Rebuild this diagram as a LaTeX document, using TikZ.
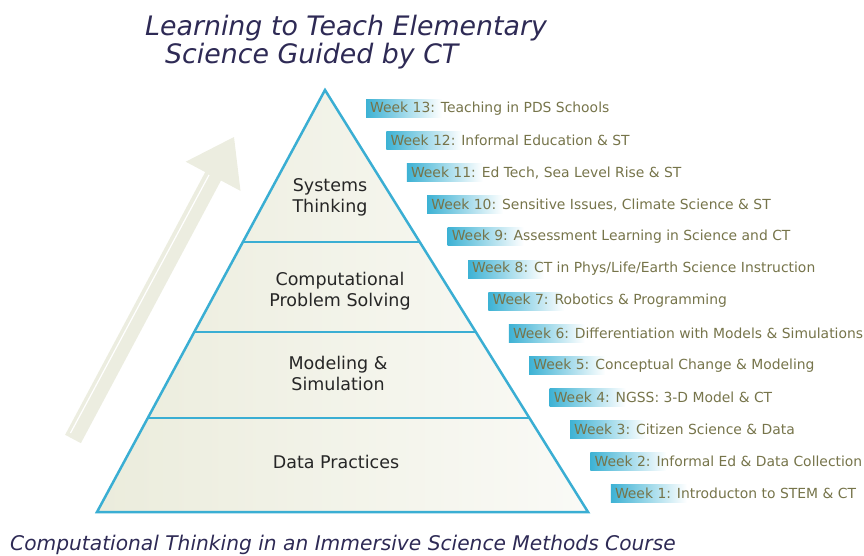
\documentclass[tikz,border=0pt]{standalone}
\usepackage{fontspec}
\setmainfont{DejaVu Sans}
\usepackage{xcolor}
\usepackage{tikz}
\usetikzlibrary{calc}

\definecolor{pyrline}{HTML}{3AAED3}
\definecolor{pyrfill}{HTML}{EBECDC}
\definecolor{weekcyan}{HTML}{3DB2D4}
\definecolor{weekink}{HTML}{76744A}
\definecolor{titleink}{HTML}{2E2A55}
\definecolor{arrowfill}{HTML}{ECEDE0}

\tikzset{
  layer/.style={align=center,text=black!85,font=\fontsize{17.5}{21}\selectfont},
  weektext/.style={anchor=west,inner sep=4pt,text=weekink,font=\fontsize{13.9}{16}\selectfont},
  weekshade/.style={left color=weekcyan,middle color=weekcyan!80,right color=white},
  heading/.style={anchor=west,inner sep=0pt,text=titleink,font=\fontsize{26.8}{28}\selectfont\itshape}
}

\begin{document}
\begin{tikzpicture}[x=1pt,y=-1pt]
\useasboundingbox (0,0) rectangle (864,555);
% rising arrow
\fill[arrowfill] (65.1,434.8) -- (205.2,172.1) -- (185.7,161.7) -- (234,137)
  -- (240.5,190.9) -- (221.0,180.5) -- (80.9,443.2) -- cycle;
\draw[white,line width=1.2pt] (70.5,433) -- (209,175);
% pyramid
\coordinate (apex) at (325,90);
\coordinate (bl) at (97,512);
\coordinate (br) at (588,512);
\shade[left color=pyrfill,right color=pyrfill!25] (apex) -- (bl) -- (br) -- cycle;
\foreach \t in {0.360,0.5735,0.777}
  \draw[pyrline,line width=2pt] ($(apex)!\t!(bl)$) -- ($(apex)!\t!(br)$);
\draw[pyrline,line width=2.5pt,line join=miter] (apex) -- (bl) -- (br) -- cycle;
\node[layer] (systems) at (330,197) {Systems\\Thinking};
\node[layer] (problem) at (340,291) {Computational\\Problem Solving};
\node[layer] (modeling) at (338,373) {Modeling \&\\Simulation};
\node[layer] (data) at (336,462) {Data Practices};
% weeks
\foreach \n/\txt [count=\k from 0] in {
  13/Teaching in PDS Schools,
  12/Informal Education \& ST,
  11/{Ed Tech, Sea Level Rise \& ST},
  10/{Sensitive Issues, Climate Science \& ST},
  9/Assessment Learning in Science and CT,
  8/{CT in Phys/Life/Earth Science Instruction},
  7/Robotics \& Programming,
  6/Differentiation with Models \& Simulations,
  5/Conceptual Change \& Modeling,
  4/NGSS: 3-D Model \& CT,
  3/Citizen Science \& Data,
  2/Informal Ed \& Data Collection,
  1/Introducton to STEM \& CT}{
  \coordinate (wk\n) at ({366+20.4*\k},{108.5+32.1*\k});
  \shade[weekshade] ($(wk\n)+(0,-9)$) rectangle ($(wk\n)+(76,9)$);
  \node[weektext] (week\n) at (wk\n) {Week \n: \txt};
}
% titles
\node[heading] (title1) at (145,28) {Learning to Teach Elementary};
\node[heading] (title2) at (165,56) {Science Guided by CT};
\node[heading,font=\fontsize{20.2}{22}\selectfont\itshape] (caption) at (10,545)
  {Computational Thinking in an Immersive Science Methods Course};
\end{tikzpicture}
\end{document}
